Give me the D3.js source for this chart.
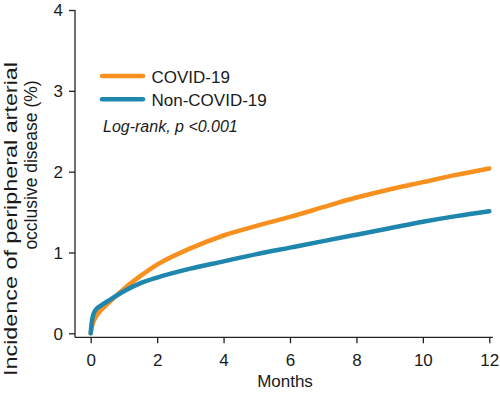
<!DOCTYPE html>
<html>
<head>
<meta charset="utf-8">
<script src="https://cdn.jsdelivr.net/npm/d3@7"></script>
<style>
  body { margin: 0; background: #fff; }
  text { font-family: "Liberation Sans", Arial, sans-serif; fill: #1a1a1a; }
</style>
</head>
<body>
<div id="chart"></div>
<script>
// months / cumulative incidence (%)
const months = [0, 0.03, 0.07, 0.15, 0.3, 0.6, 1, 1.5, 2, 3, 4, 5, 6, 7, 8, 9, 10, 11, 12];
const covid = [0, 0.07, 0.13, 0.2, 0.28, 0.4, 0.55, 0.71, 0.85, 1.05, 1.21, 1.33, 1.44, 1.56, 1.68, 1.78, 1.87, 1.96, 2.04];
const nonCovid = [0, 0.13, 0.22, 0.29, 0.34, 0.42, 0.52, 0.62, 0.69, 0.8, 0.89, 0.98, 1.06, 1.14, 1.22, 1.3, 1.38, 1.45, 1.51];
const xTicks = [0, 2, 4, 6, 8, 10, 12];
const yTicks = [0, 1, 2, 3, 4];
const seriesNames = ["COVID-19", "Non-COVID-19"];
const colors = ["#f7901e", "#1f86ae"];

const W = 500, H = 394;
const svg = d3.select("#chart").append("svg")
  .attr("width", W).attr("height", H);

const x = d3.scaleLinear().domain([0, 12]).range([90.7, 489.3]);
const y = d3.scaleLinear().domain([0, 4]).range([333.3, 10]);
const axisX = 75, axisY = 337.3;

// y axis
const gy = svg.append("g").attr("transform", `translate(${axisX},0)`)
  .call(d3.axisLeft(y).tickValues(yTicks).tickSize(6).tickPadding(6).tickFormat(d3.format("d")));
gy.select(".domain").remove();
gy.selectAll("line").attr("stroke", "#222").attr("stroke-width", 1.3);
gy.selectAll("text").style("font-size", "17px").attr("dy", "0.35em");
svg.append("line").attr("x1", axisX).attr("x2", axisX).attr("y1", y(4)).attr("y2", axisY)
  .attr("stroke", "#222").attr("stroke-width", 1.3);

// x axis
const gx = svg.append("g").attr("transform", `translate(0,${axisY})`)
  .call(d3.axisBottom(x).tickValues(xTicks).tickSize(6).tickPadding(11).tickFormat(d3.format("d")));
gx.select(".domain").remove();
gx.selectAll("line").attr("stroke", "#222").attr("stroke-width", 1.3);
gx.selectAll("text").style("font-size", "17px");
svg.append("line").attr("x1", axisX).attr("x2", 493).attr("y1", axisY).attr("y2", axisY)
  .attr("stroke", "#222").attr("stroke-width", 1.3);

svg.append("text").attr("x", 285).attr("y", 387).attr("text-anchor", "middle")
  .style("font-size", "17px").text("Months");

// y title, two lines
svg.append("text").attr("transform", "translate(17,219) rotate(-90)")
  .attr("text-anchor", "middle").style("font-size", "17.5px")
  .attr("textLength", 314).attr("lengthAdjust", "spacingAndGlyphs")
  .text("Incidence of peripheral arterial");
svg.append("text").attr("transform", "translate(37,165) rotate(-90)")
  .attr("text-anchor", "middle").style("font-size", "17.5px")
  .text("occlusive disease (%)");

// curves
const line = d3.line().x(d => x(d[0])).y(d => y(d[1])).curve(d3.curveMonotoneX);
[covid, nonCovid].forEach((vals, i) => {
  svg.append("path")
    .datum(months.map((m, j) => [m, vals[j]]))
    .attr("d", line)
    .attr("fill", "none")
    .attr("stroke", colors[i])
    .attr("stroke-width", 4.5)
    .attr("stroke-linecap", "round")
    .attr("stroke-linejoin", "round");
});

// legend
seriesNames.forEach((name, i) => {
  const ly = 76 + i * 23.3;
  svg.append("line").attr("x1", 102).attr("x2", 143).attr("y1", ly).attr("y2", ly)
    .attr("stroke", colors[i]).attr("stroke-width", 4.5).attr("stroke-linecap", "round");
  svg.append("text").attr("x", 151.5).attr("y", ly + 6.5).style("font-size", "17px").text(name);
});
svg.append("text").attr("x", 103).attr("y", 131.5).style("font-size", "16px")
  .style("font-style", "italic").text("Log-rank, p <0.001");
</script>
</body>
</html>
